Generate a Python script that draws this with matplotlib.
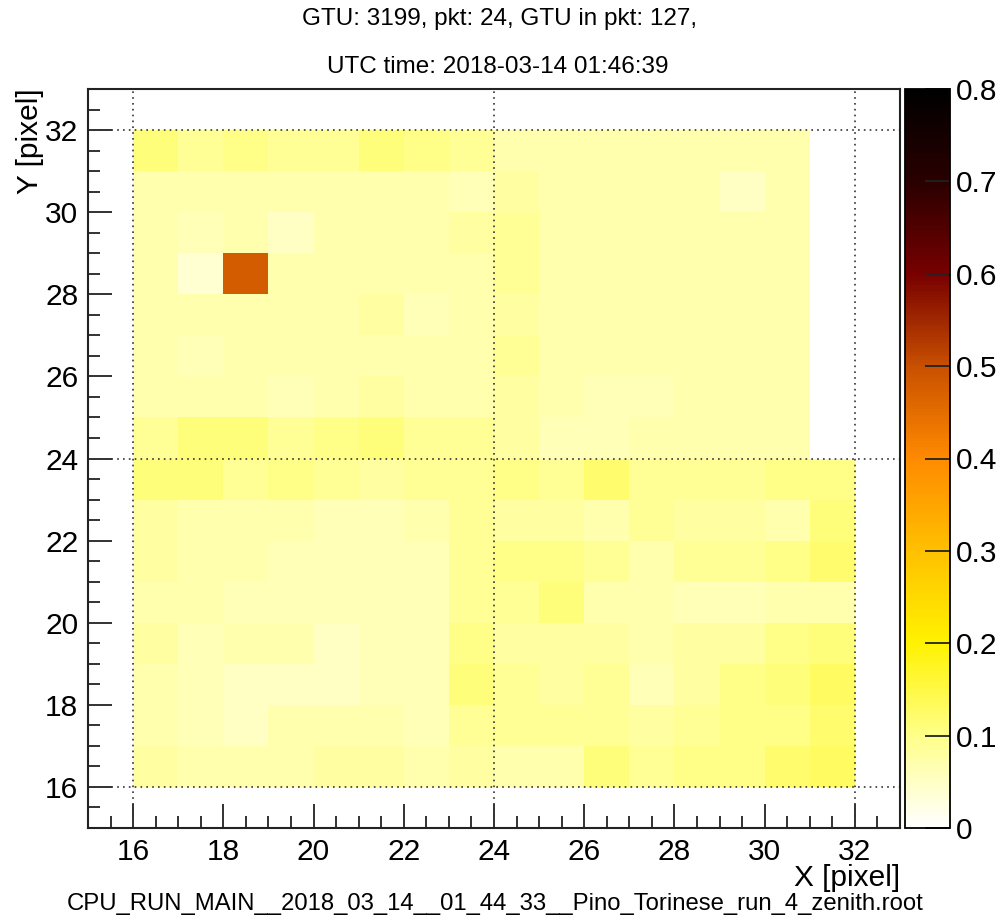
import numpy as np
import matplotlib
matplotlib.use('Agg')
import matplotlib.pyplot as plt
from matplotlib.colors import LinearSegmentedColormap
from matplotlib.ticker import MultipleLocator, FixedLocator, FixedFormatter

plt.rcParams['font.family'] = ['Liberation Sans', 'DejaVu Sans']

# pixel counts, rows from top (y=31) to bottom, columns x=16..23 / x=24..31
top_left = [
    [0.11, 0.09, 0.10, 0.09, 0.09, 0.11, 0.10, 0.09],
    [0.07, 0.07, 0.07, 0.07, 0.07, 0.07, 0.07, 0.06],
    [0.07, 0.06, 0.07, 0.05, 0.07, 0.07, 0.07, 0.08],
    [0.07, 0.04, 0.48, 0.07, 0.07, 0.07, 0.07, 0.07],
    [0.07, 0.07, 0.07, 0.07, 0.07, 0.08, 0.06, 0.07],
    [0.07, 0.06, 0.07, 0.07, 0.07, 0.07, 0.07, 0.07],
    [0.07, 0.07, 0.07, 0.06, 0.07, 0.08, 0.07, 0.07],
    [0.09, 0.11, 0.11, 0.09, 0.10, 0.11, 0.09, 0.09],
]
top_right = [
    [0.07, 0.07, 0.07, 0.07, 0.07, 0.07, 0.07, np.nan],
    [0.08, 0.07, 0.07, 0.07, 0.07, 0.05, 0.07, np.nan],
    [0.09, 0.07, 0.07, 0.07, 0.07, 0.07, 0.07, np.nan],
    [0.09, 0.07, 0.07, 0.07, 0.07, 0.07, 0.07, np.nan],
    [0.08, 0.07, 0.07, 0.07, 0.07, 0.07, 0.07, np.nan],
    [0.09, 0.07, 0.07, 0.07, 0.07, 0.07, 0.07, np.nan],
    [0.08, 0.07, 0.06, 0.06, 0.07, 0.07, 0.07, np.nan],
    [0.08, 0.06, 0.06, 0.07, 0.07, 0.07, 0.07, np.nan],
]
bottom_left = [
    [0.11, 0.11, 0.09, 0.10, 0.09, 0.08, 0.09, 0.09],
    [0.08, 0.07, 0.07, 0.07, 0.06, 0.06, 0.07, 0.09],
    [0.08, 0.07, 0.07, 0.06, 0.06, 0.06, 0.06, 0.09],
    [0.07, 0.07, 0.06, 0.06, 0.06, 0.06, 0.06, 0.09],
    [0.08, 0.06, 0.07, 0.07, 0.05, 0.06, 0.06, 0.10],
    [0.07, 0.06, 0.05, 0.05, 0.05, 0.06, 0.06, 0.11],
    [0.07, 0.06, 0.05, 0.07, 0.07, 0.07, 0.06, 0.09],
    [0.08, 0.07, 0.07, 0.07, 0.08, 0.08, 0.07, 0.08],
]
bottom_right = [
    [0.10, 0.09, 0.12, 0.09, 0.09, 0.09, 0.10, 0.10],
    [0.08, 0.08, 0.07, 0.09, 0.08, 0.08, 0.07, 0.11],
    [0.10, 0.10, 0.09, 0.07, 0.09, 0.09, 0.10, 0.12],
    [0.09, 0.11, 0.07, 0.07, 0.06, 0.06, 0.07, 0.07],
    [0.08, 0.08, 0.08, 0.07, 0.08, 0.08, 0.10, 0.11],
    [0.09, 0.08, 0.09, 0.06, 0.08, 0.10, 0.11, 0.13],
    [0.09, 0.09, 0.09, 0.08, 0.09, 0.10, 0.10, 0.12],
    [0.07, 0.07, 0.11, 0.09, 0.10, 0.10, 0.12, 0.13],
]
x_edges = np.arange(16, 33)
y_edges = np.arange(16, 33)
title1 = "GTU: 3199, pkt: 24, GTU in pkt: 127,"
title2 = "UTC time: 2018-03-14 01:46:39"
fname = "CPU_RUN_MAIN__2018_03_14__01_44_33__Pino_Torinese_run_4_zenith.root"

z = np.block([[np.array(top_left), np.array(top_right)],
              [np.array(bottom_left), np.array(bottom_right)]])
z = np.flipud(z)
z = np.ma.masked_invalid(z)

# ROOT-like dark body radiator palette
cmap = LinearSegmentedColormap.from_list('darkbody', [
    (0.0, '#ffffff'), (0.125, '#ffff88'), (0.25, '#fff200'),
    (0.375, '#ffc000'), (0.5, '#ff8a00'), (0.625, '#c85000'),
    (0.75, '#780000'), (0.875, '#2a0000'), (1.0, '#000000')])

fig = plt.figure(figsize=(10.04, 9.19), dpi=100)
W, H = 1004, 919
ax = fig.add_axes([88/W, 1-828/H, (900-88)/W, (828-89)/H])
cax = fig.add_axes([905/W, 1-828/H, (950-905)/W, (828-89)/H])

mesh = ax.pcolormesh(x_edges, y_edges, z, cmap=cmap, vmin=0, vmax=0.8)
ax.set_xlim(15, 33)
ax.set_ylim(15, 33)

for v in [16, 24, 32]:
    ax.axvline(v, color='#333333', ls=(0, (1, 2.5)), lw=1.2)
    ax.axhline(v, color='#333333', ls=(0, (1, 2.5)), lw=1.2)

ax.xaxis.set_major_locator(MultipleLocator(2))
ax.xaxis.set_minor_locator(MultipleLocator(0.5))
ax.yaxis.set_major_locator(MultipleLocator(2))
ax.yaxis.set_minor_locator(MultipleLocator(0.5))
ax.set_xticks(np.arange(16, 33, 2))
ax.set_yticks(np.arange(16, 33, 2))
ax.tick_params(which='both', direction='in', top=False, right=False,
               labelsize=21.5, width=1.3, color='#222222')
ax.tick_params(which='major', length=17, pad=7)
ax.tick_params(which='minor', length=8.5)
for s in ax.spines.values():
    s.set_linewidth(1.5)
    s.set_color('#222222')

cb = fig.colorbar(mesh, cax=cax)
cb.outline.set_linewidth(1.3)
cb.minorticks_off()
cticks = [0, 0.1, 0.2, 0.3, 0.4, 0.5, 0.6, 0.7, 0.8]
cax.yaxis.set_major_locator(FixedLocator(cticks))
cax.yaxis.set_major_formatter(FixedFormatter(['0', '0.1', '0.2', '0.3', '0.4', '0.5', '0.6', '0.7', '0.8']))
cax.tick_params(direction='in', length=18, width=1.3, labelsize=21.5, pad=4, color='#222222')

fig.text(500/W, 1-19/H, title1, ha='center', va='center', fontsize=17.5)
fig.text(498/W, 1-67/H, title2, ha='center', va='center', fontsize=17.5)
fig.text(900/W, 1-878/H, "X [pixel]", ha='right', va='center', fontsize=21.5)
fig.text(30/W, 1-88/H, "Y [pixel]", ha='center', va='top', rotation=90, fontsize=21.5)
fig.text(495/W, 1-904/H, fname, ha='center', va='center', fontsize=17.2)

plt.savefig('out.png', dpi=100)
